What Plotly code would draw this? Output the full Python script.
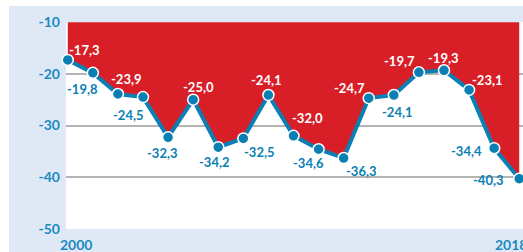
import plotly.graph_objects as go

years = list(range(2000, 2019))
values = [-17.3, -19.8, -23.9, -24.5, -32.3, -25.0, -34.2, -32.5, -24.1, -32.0,
          -34.6, -36.3, -24.7, -24.1, -19.7, -19.3, -23.1, -34.4, -40.3]
# label offsets (pixels, dx right, dy up) and whether label sits on red area
label_dx = [17, -10, 9, -15, -6, 5, -4, 16, -2, 14, -10, 18, -19, 4, -19, 0, 18, -28, -31]
label_dy = [10, -16, 15, -18, -16, 13, -15, -14, 15, 18, -14, -13, 10, -17, 11, 12, 10, -3, -1]
on_red = [True, False, True, False, False, True, False, False, True, True,
          False, False, True, False, True, True, True, False, False]
y_ticks = [-50, -40, -30, -20, -10]
x_labels = ["2000", "2018"]

RED = "#d81f27"
BLUE = "#0a7fb4"
TICKBLUE = "#1b89c1"
LIGHT = "#dfe9f6"
FONT = "Lato"

fig = go.Figure()
fig.add_trace(go.Scatter(x=years, y=[-10] * len(years), mode="lines",
                         line=dict(width=0, color=RED), hoverinfo="skip", showlegend=False))
fig.add_trace(go.Scatter(x=years, y=values, mode="lines+markers", fill="tonexty",
                         fillcolor=RED, line=dict(color=BLUE, width=4),
                         marker=dict(size=11, color=BLUE, line=dict(color="white", width=1.5)),
                         cliponaxis=False, showlegend=False))

for x, v, dx, dy, r in zip(years, values, label_dx, label_dy, on_red):
    fig.add_annotation(x=x, y=v, text=f"{v:.1f}".replace(".", ","), showarrow=False,
                       xshift=dx, yshift=dy,
                       font=dict(family=FONT, size=13, color="white" if r else BLUE, weight="bold"))

W, H = 523, 252
L, T, B, R = 66, 22, 23, 0
pw, ph = W - L - R, H - T - B

# x labels
fig.add_annotation(x=2000.31, y=-(244.3 - (H - B)) / ph, xref="x", yref="paper",
                   text=x_labels[0], showarrow=False, yanchor="middle",
                   font=dict(family=FONT, size=14, color=TICKBLUE, weight="bold"))
fig.add_annotation(x=2017.69, y=-(244.3 - (H - B)) / ph, xref="x", yref="paper",
                   text=x_labels[1], showarrow=False, yanchor="middle",
                   font=dict(family=FONT, size=14, color=TICKBLUE, weight="bold"))

# white strips (top and left) outside the light-blue panel
fig.add_shape(type="rect", xref="paper", yref="paper", x0=-L / pw - 0.01, x1=1.01,
              y0=1 + (T - 6) / ph, y1=1 + T / ph + 0.01, fillcolor="white", line_width=0)
fig.add_shape(type="rect", xref="paper", yref="paper", x0=-L / pw - 0.01, x1=(9 - L) / pw,
              y0=-B / ph - 0.01, y1=1 + T / ph + 0.01, fillcolor="white", line_width=0)

fig.update_layout(
    width=W, height=H, margin=dict(l=L, r=R, t=T, b=B),
    paper_bgcolor=LIGHT, plot_bgcolor="white",
    xaxis=dict(range=[1999.93, 2018.15], showgrid=False, showticklabels=False,
               zeroline=False, showline=False, fixedrange=True),
    yaxis=dict(range=[-50.05, -9.95], tickvals=y_ticks, ticktext=[str(t) for t in y_ticks],
               showgrid=True, gridcolor="#b4b4b4", gridwidth=1.5, zeroline=False,
               showline=False, ticklabelstandoff=5, fixedrange=True,
               tickfont=dict(family=FONT, size=14, color=TICKBLUE, weight="bold")),
)

fig.write_html("out.html", config={"displayModeBar": False},
               post_script="document.body.style.margin='0';document.body.style.overflow='hidden';")
